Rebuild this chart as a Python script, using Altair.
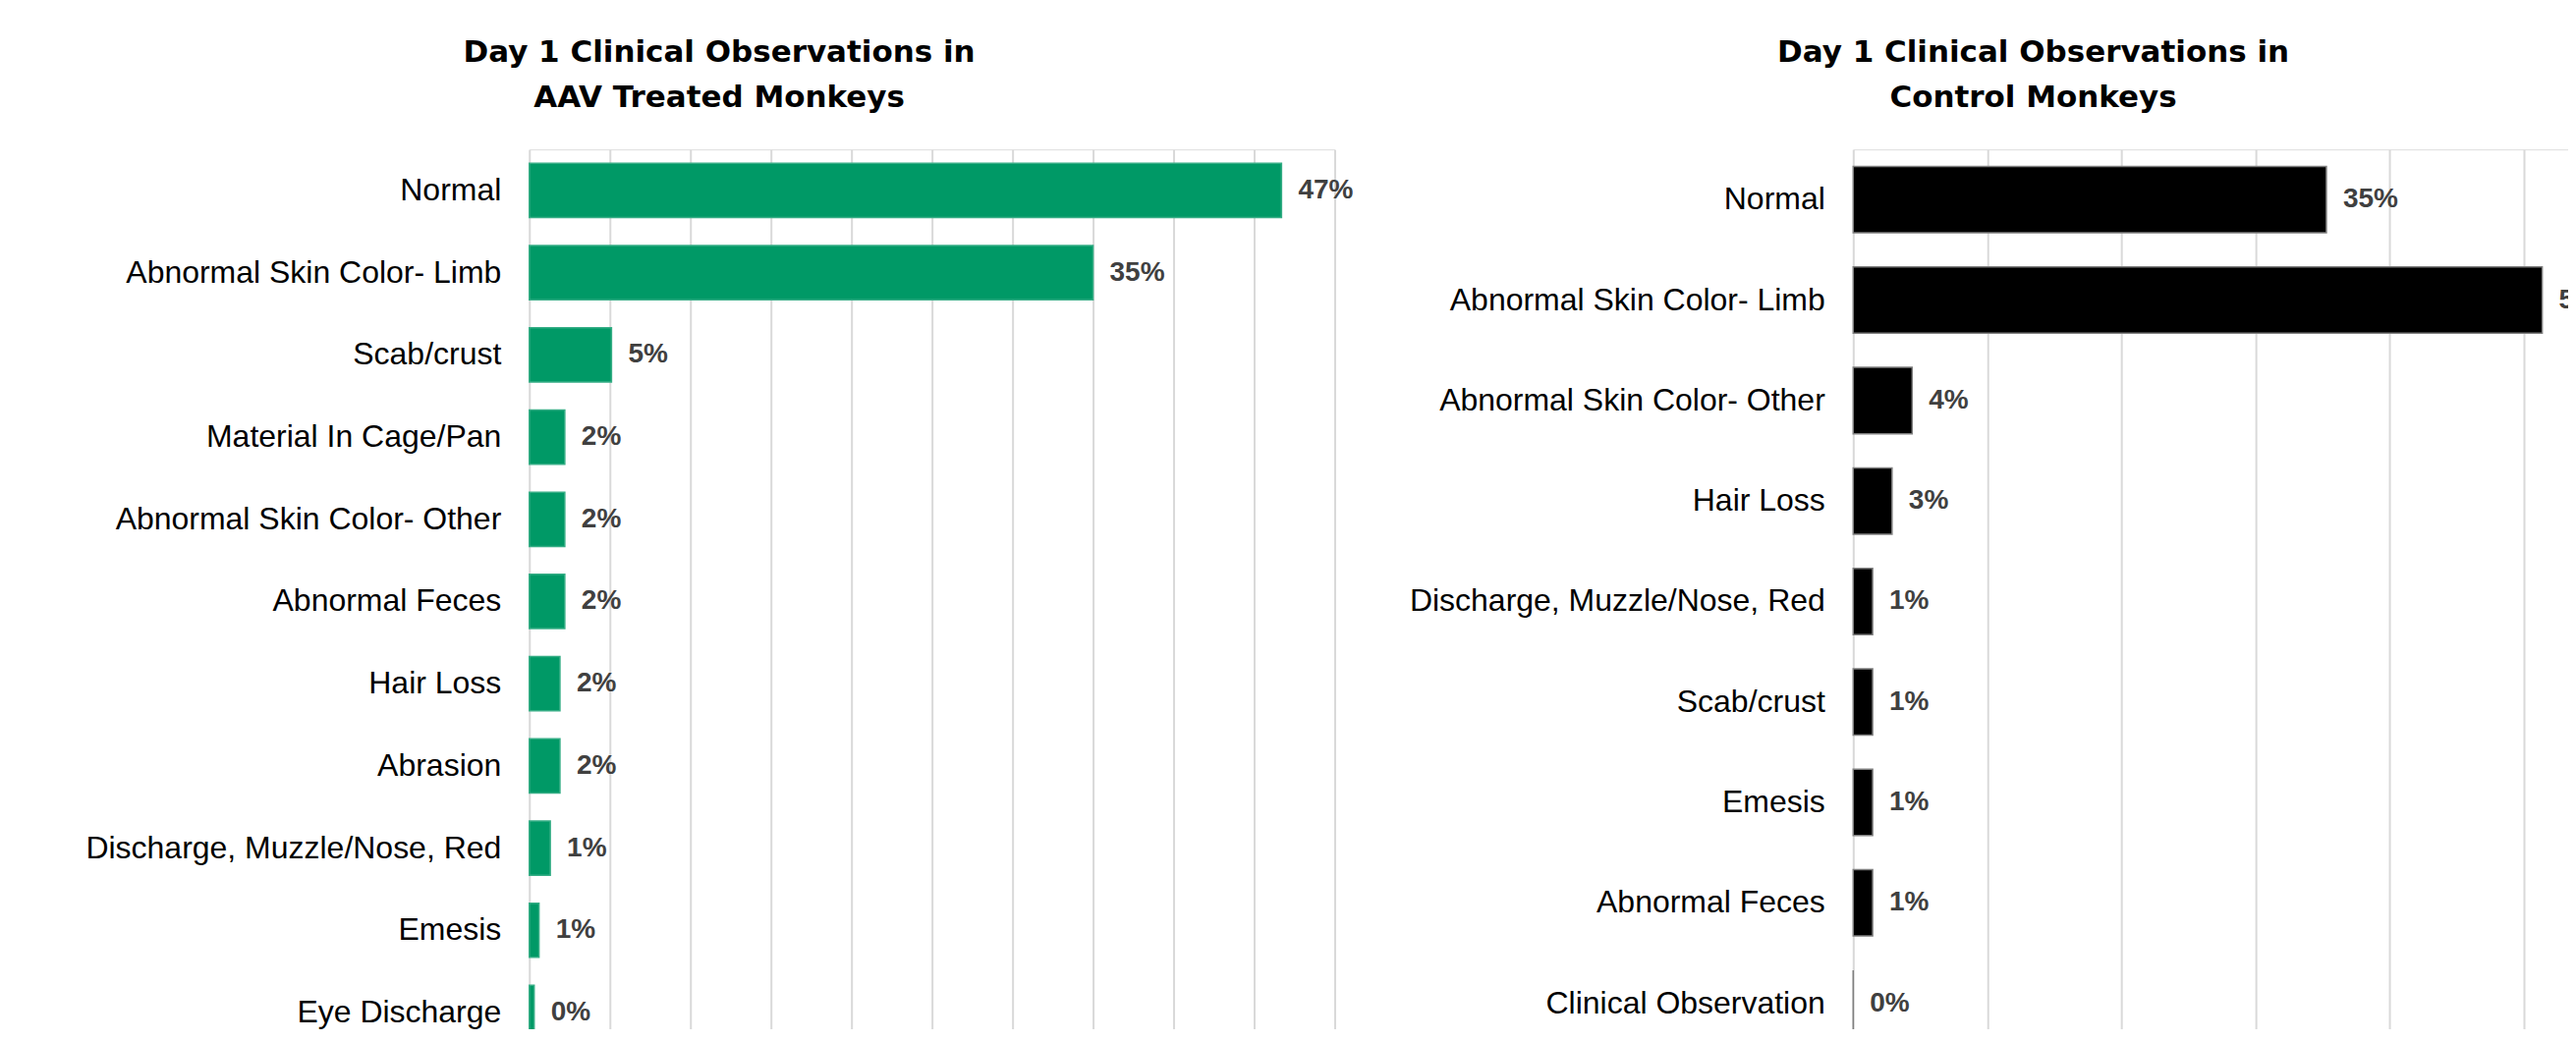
import altair as alt
import pandas as pd

# ---- data ----
aav_categories = [
    "Normal\u00a0",
    "Abnormal Skin Color- Limb",
    "Scab/crust",
    "Material In Cage/Pan",
    "Abnormal Skin Color- Other",
    "Abnormal Feces",
    "Hair Loss\u00a0",
    "Abrasion",
    "Discharge, Muzzle/Nose, Red",
    "Emesis",
    "Eye Discharge",
]
aav_values = [0.467, 0.350, 0.051, 0.022, 0.022, 0.022, 0.019, 0.019, 0.013, 0.006, 0.003]

ctrl_categories = [
    "Normal\u00a0",
    "Abnormal Skin Color- Limb",
    "Abnormal Skin Color- Other",
    "Hair Loss\u00a0",
    "Discharge, Muzzle/Nose, Red",
    "Scab/crust",
    "Emesis",
    "Abnormal Feces",
    "Clinical Observation",
]
ctrl_values = [0.353, 0.514, 0.044, 0.029, 0.0145, 0.0145, 0.0145, 0.0145, 0.0]

aav_grid = [0, 0.05, 0.10, 0.15, 0.20, 0.25, 0.30, 0.35, 0.40, 0.45, 0.50]
ctrl_grid = [0, 0.10, 0.20, 0.30, 0.40, 0.50, 0.60]

aav_title = ["Day 1 Clinical Observations in", "AAV Treated Monkeys"]
ctrl_title = ["Day 1 Clinical Observations in", "Control Monkeys"]

aav_df = pd.DataFrame({"cat": aav_categories, "val": aav_values})
ctrl_df = pd.DataFrame({"cat": ctrl_categories, "val": ctrl_values})

LABEL_FONT = "Liberation Sans"


def panel(df, cats, grid, domain_max, color, stroke, title, width, height):
    y = alt.Y(
        "cat:N",
        sort=cats,
        title=None,
        scale=alt.Scale(paddingInner=0.34, paddingOuter=0.17),
        axis=alt.Axis(
            ticks=False,
            domain=False,
            labelFont=LABEL_FONT,
            labelFontSize=32,
            labelColor="#000000",
            labelPadding=29,
            labelLimit=1000,
            grid=False,
        ),
    )
    x = alt.X(
        "val:Q",
        title=None,
        scale=alt.Scale(domain=[0, domain_max], nice=False, zero=True),
        axis=alt.Axis(
            values=grid,
            labels=False,
            ticks=False,
            domain=False,
            grid=True,
            gridColor="#d9d9d9",
            gridWidth=2,
        ),
    )
    bars = alt.Chart(df).mark_bar(
        color=color, stroke=stroke, strokeWidth=1.5
    ).encode(x=x, y=y)
    labels = alt.Chart(df).mark_text(
        align="left",
        baseline="middle",
        dx=17,
        font=LABEL_FONT,
        fontSize=28,
        fontWeight="bold",
        color="#404040",
    ).encode(
        x=alt.X("val:Q"),
        y=alt.Y("cat:N", sort=cats),
        text=alt.Text("val:Q", format=".0%"),
    )
    return (bars + labels).properties(
        width=width,
        height=height,
        title=alt.TitleParams(
            text=title,
            font="DejaVu Sans",
            fontSize=31,
            fontWeight="bold",
            color="#000000",
            lineHeight=46,
            anchor="middle",
            frame="bounds",
            offset=36,
        ),
    )


left = panel(aav_df, aav_categories, aav_grid, 0.5, "#009966", "#35ad85",
             aav_title, 820, 921)
right = panel(ctrl_df, ctrl_categories, ctrl_grid, 0.6, "#000000", "#7f7f7f",
              ctrl_title, 819, 921)

chart = (
    alt.hconcat(left, right, spacing=55)
    .resolve_scale(x="independent", y="independent")
    .properties(padding={"left": 78, "top": 29, "right": -92, "bottom": -26})
    .configure_view(stroke=None)
    .configure(background="white")
)

chart.save("out.html", embed_options={"renderer": "svg", "actions": False})
